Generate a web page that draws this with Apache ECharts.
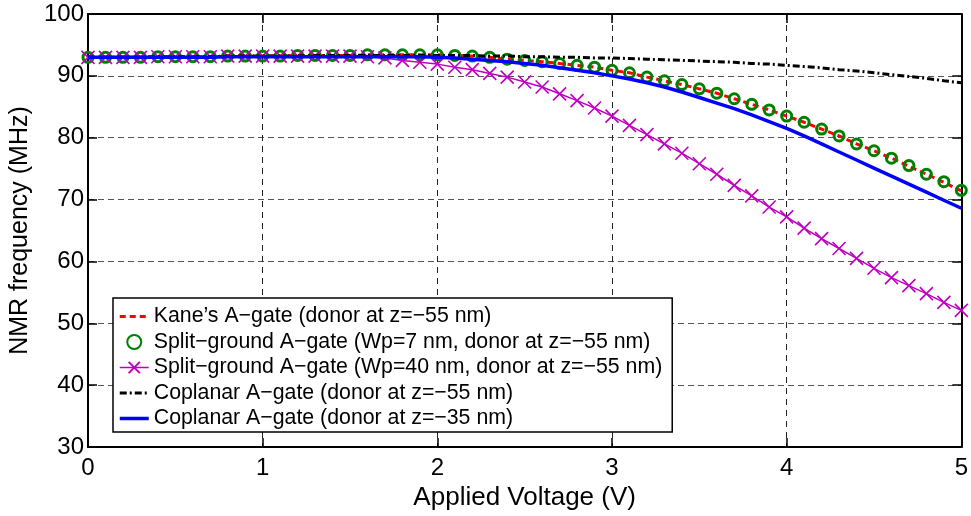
<!DOCTYPE html>
<html>
<head>
<meta charset="utf-8">
<script src="https://cdn.jsdelivr.net/npm/echarts@6/dist/echarts.min.js"></script>
<style>
  html, body { margin: 0; padding: 0; background: #fff; }
  #chart { width: 971px; height: 516px; }
</style>
</head>
<body>
<div id="chart"></div>
<script>
// applied voltage (V), one point every 0.1 V
var voltage = [
  0.0, 0.1, 0.2, 0.3, 0.4, 0.5, 0.6, 0.7, 0.8, 0.9,
  1.0, 1.1, 1.2, 1.3, 1.4, 1.5, 1.6, 1.7, 1.8, 1.9,
  2.0, 2.1, 2.2, 2.3, 2.4, 2.5, 2.6, 2.7, 2.8, 2.9,
  3.0, 3.1, 3.2, 3.3, 3.4, 3.5, 3.6, 3.7, 3.8, 3.9,
  4.0, 4.1, 4.2, 4.3, 4.4, 4.5, 4.6, 4.7, 4.8, 4.9,
  5.0
]

// NMR frequency (MHz)
var kaneGate = [
  93.0, 93.0, 93.0, 93.0, 93.1, 93.1, 93.1, 93.1, 93.2, 93.2,
  93.2, 93.2, 93.3, 93.3, 93.3, 93.3, 93.4, 93.4, 93.4, 93.4,
  93.4, 93.3, 93.2, 93.0, 92.7, 92.5, 92.3, 92.0, 91.7, 91.4,
  90.9, 90.5, 89.8, 89.2, 88.6, 87.9, 87.2, 86.3, 85.4, 84.5,
  83.5, 82.5, 81.4, 80.3, 79.0, 77.9, 76.7, 75.4, 74.1, 72.8,
  71.4
]
var splitWp7 = [
  93.0, 93.0, 93.0, 93.0, 93.1, 93.1, 93.1, 93.1, 93.2, 93.2,
  93.2, 93.2, 93.3, 93.3, 93.3, 93.3, 93.4, 93.4, 93.4, 93.4,
  93.4, 93.3, 93.2, 93.0, 92.7, 92.5, 92.3, 92.0, 91.7, 91.4,
  90.9, 90.5, 89.8, 89.2, 88.6, 87.9, 87.2, 86.3, 85.4, 84.5,
  83.5, 82.5, 81.4, 80.3, 79.0, 77.9, 76.7, 75.5, 74.1, 72.9,
  71.5
]
var splitWp40 = [
  93.0, 93.0, 93.0, 93.0, 93.1, 93.1, 93.1, 93.1, 93.2, 93.2,
  93.2, 93.2, 93.2, 93.2, 93.2, 93.2, 93.1, 92.9, 92.5, 92.2,
  91.9, 91.4, 91.0, 90.4, 89.8, 89.0, 88.2, 87.1, 86.0, 84.8,
  83.5, 82.0, 80.5, 79.0, 77.5, 75.8, 74.1, 72.3, 70.6, 68.8,
  67.2, 65.4, 63.7, 62.1, 60.5, 58.9, 57.4, 56.1, 54.8, 53.4,
  52.1
]
var coplanar55 = [
  93.0, 93.0, 93.0, 93.0, 93.1, 93.1, 93.1, 93.1, 93.2, 93.2,
  93.2, 93.2, 93.2, 93.3, 93.3, 93.3, 93.3, 93.3, 93.3, 93.3,
  93.3, 93.3, 93.3, 93.2, 93.2, 93.1, 93.1, 93.0, 93.0, 92.9,
  92.9, 92.8, 92.7, 92.6, 92.5, 92.4, 92.3, 92.2, 92.0, 91.9,
  91.7, 91.5, 91.3, 91.0, 90.8, 90.5, 90.2, 89.9, 89.6, 89.2,
  88.9
]
var coplanar35 = [
  93.0, 93.0, 93.0, 93.0, 93.0, 93.0, 93.0, 93.0, 93.1, 93.1,
  93.1, 93.1, 93.1, 93.1, 93.1, 93.1, 93.1, 93.1, 93.1, 93.1,
  93.0, 92.9, 92.7, 92.5, 92.3, 92.0, 91.7, 91.3, 90.9, 90.5,
  90.0, 89.5, 88.9, 88.2, 87.4, 86.5, 85.6, 84.7, 83.7, 82.6,
  81.5, 80.3, 79.0, 77.7, 76.4, 75.1, 73.8, 72.5, 71.2, 69.9,
  68.6
]

var seriesNames = [
  'Kane’s A−gate (donor at z=−55 nm)',
  'Split−ground A−gate (Wp=7 nm, donor at z=−55 nm)',
  'Split−ground A−gate (Wp=40 nm, donor at z=−55 nm)',
  'Coplanar A−gate (donor at z=−55 nm)',
  'Coplanar A−gate (donor at z=−35 nm)'
]

function pairs (ys) {
  return voltage.map(function (v, i) { return [v, ys[i]] })
}

var font = 'Liberation Sans'
var chart = echarts.init(document.getElementById('chart'), null, { renderer: 'canvas' })

var tickStyle = { show: true, inside: true, length: 9, lineStyle: { color: '#000', width: 1.5 } }
var hideMarker = { opacity: 0 }

var option = {
  animation: false,
  backgroundColor: '#fff',
  grid: { left: 88, right: 8, top: 14, bottom: 61, containLabel: false },
  legend: {
    orient: 'vertical',
    left: 113,
    top: 298,
    backgroundColor: '#fff',
    borderColor: '#000',
    borderWidth: 1.5,
    borderRadius: 0,
    padding: [8, 10, 3, 5],
    itemWidth: 29,
    itemHeight: 14,
    itemGap: 4.5,
    textStyle: { fontFamily: font, fontSize: 21.3, color: '#000', lineHeight: 21 },
    data: [
      { name: seriesNames[0], itemStyle: hideMarker, lineStyle: { width: 3, type: [6, 4] } },
      { name: seriesNames[1], icon: 'path://M5,2A3,3 0 1 1 4.99,2Z' },
      { name: seriesNames[2], lineStyle: { width: 1.5 } },
      { name: seriesNames[3], itemStyle: hideMarker, lineStyle: { width: 3, type: [7, 3, 2, 3] } },
      { name: seriesNames[4], itemStyle: hideMarker, lineStyle: { width: 3.5 } }
    ]
  },
  xAxis: [{
    type: 'value',
    min: 0,
    max: 5,
    interval: 1,
    name: 'Applied Voltage (V)',
    nameLocation: 'middle',
    nameGap: 21,
    nameTextStyle: { fontFamily: font, fontSize: 26, color: '#000' },
    axisLine: { show: true, onZero: false, lineStyle: { color: '#000', width: 2 } },
    axisTick: tickStyle,
    axisLabel: { fontFamily: font, fontSize: 24, color: '#000', margin: 9 },
    splitLine: { show: true, lineStyle: { color: '#222', width: 1, type: [6, 5] } }
  }, {
    type: 'value',
    position: 'top',
    min: 0,
    max: 5,
    interval: 1,
    axisLine: { show: true, onZero: false, lineStyle: { color: '#000', width: 2 } },
    axisTick: tickStyle,
    axisLabel: { show: false },
    splitLine: { show: false }
  }],
  yAxis: [{
    type: 'value',
    min: 30,
    max: 100,
    interval: 10,
    name: 'NMR frequency (MHz)',
    nameLocation: 'middle',
    nameGap: 45,
    nameTextStyle: { fontFamily: font, fontSize: 25, color: '#000' },
    axisLine: { show: true, onZero: false, lineStyle: { color: '#000', width: 2 } },
    axisTick: tickStyle,
    axisLabel: { fontFamily: font, fontSize: 24, color: '#000', margin: 4 },
    splitLine: { show: true, lineStyle: { color: '#555', width: 1, type: [6, 4] } }
  }, {
    type: 'value',
    position: 'right',
    min: 30,
    max: 100,
    interval: 10,
    axisLine: { show: true, onZero: false, lineStyle: { color: '#000', width: 2 } },
    axisTick: tickStyle,
    axisLabel: { show: false },
    splitLine: { show: false }
  }],
  series: [{
    name: seriesNames[0],
    type: 'line',
    data: pairs(kaneGate),
    showSymbol: false,
    symbol: 'none',
    lineStyle: { color: '#ff0000', width: 3, type: [6, 4] },
    itemStyle: { color: '#ff0000' },
    z: 2
  }, {
    name: seriesNames[1],
    type: 'scatter',
    data: pairs(splitWp7),
    symbol: 'circle',
    symbolSize: 10,
    itemStyle: { color: 'rgba(255,255,255,0)', borderColor: '#008000', borderWidth: 3, opacity: 1 },
    z: 3
  }, {
    name: seriesNames[2],
    type: 'line',
    data: pairs(splitWp40),
    symbol: 'path://M0,0L10,10M10,0L0,10',
    symbolSize: 13,
    showAllSymbol: true,
    lineStyle: { color: '#c000c0', width: 1.5 },
    itemStyle: { color: 'rgba(0,0,0,0)', borderColor: '#c000c0', borderWidth: 1.6 },
    z: 4
  }, {
    name: seriesNames[3],
    type: 'line',
    data: pairs(coplanar55),
    showSymbol: false,
    symbol: 'none',
    lineStyle: { color: '#000', width: 3, type: [7, 3, 2, 3] },
    itemStyle: { color: '#000' },
    z: 5
  }, {
    name: seriesNames[4],
    type: 'line',
    data: pairs(coplanar35),
    showSymbol: false,
    symbol: 'none',
    lineStyle: { color: '#0000ff', width: 3.5 },
    itemStyle: { color: '#0000ff' },
    z: 6
  }]
}

chart.setOption(option)
</script>
</body>
</html>
